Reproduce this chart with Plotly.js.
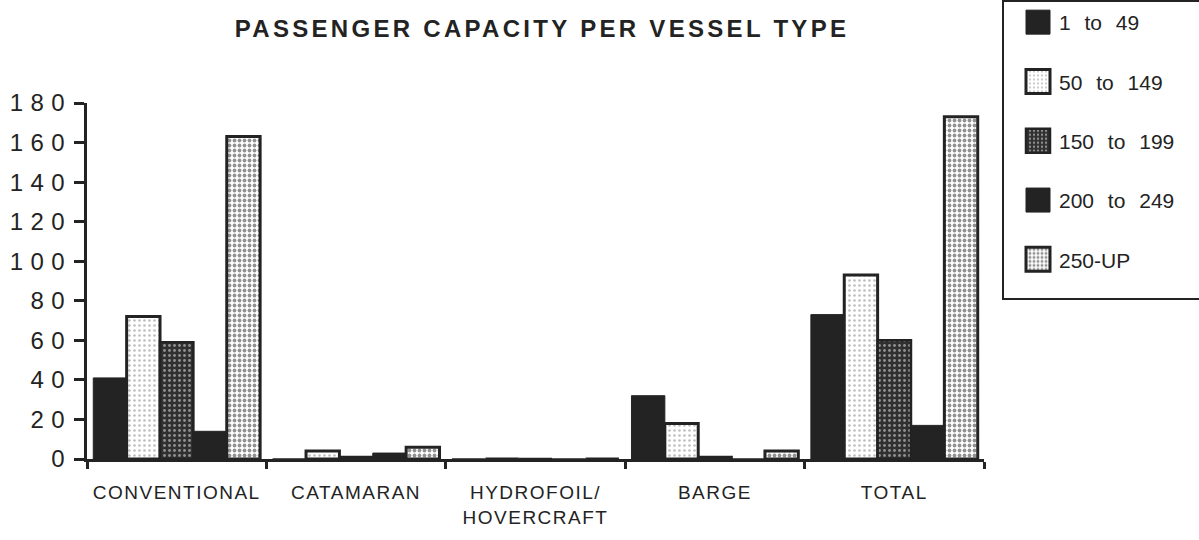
<!DOCTYPE html>
<html>
<head>
<meta charset="utf-8">
<script src="https://cdn.plot.ly/plotly-3.0.1.min.js"></script>
<style>
  html, body { margin: 0; padding: 0; background: #fff; }
  #chart { width: 1199px; height: 540px; }
  .ytick text { letter-spacing: 7.5px; }
  .xtick text { letter-spacing: 1.5px; }
  .gtitle { letter-spacing: 3.3px; }
  .legendtext { word-spacing: 8px; }
</style>
</head>
<body>
<div id="chart"></div>
<script>
const categories = ['CONVENTIONAL', 'CATAMARAN', 'HYDROFOIL/<br>HOVERCRAFT', 'BARGE', 'TOTAL'];
const seriesNames = ['1 to 49', '50 to 149', '150 to 199', '200 to 249', '250-UP'];
const cap1to49    = [41, 0, 0, 32, 73];
const cap50to149  = [72, 4, 0, 18, 93];
const cap150to199 = [59, 1, 0, 1, 60];
const cap200to249 = [14, 3, 0, 0, 17];
const cap250up    = [163, 6, 0, 4, 173];
const yTicks = [0, 20, 40, 60, 80, 100, 120, 140, 160, 180];

const ink = '#232323';
const styles = [
  {color: ink, line: {color: ink, width: 1}},
  {color: '#ffffff', line: {color: ink, width: 3},
   pattern: {shape: '.', fgcolor: '#808080', bgcolor: '#ffffff', size: 5, solidity: 0.22, fillmode: 'overlay'}},
  {color: '#333333', line: {color: ink, width: 2.5},
   pattern: {shape: '.', fgcolor: '#f4f4f4', bgcolor: '#303030', size: 5, solidity: 0.25, fillmode: 'overlay'}},
  {color: ink, line: {color: ink, width: 1}},
  {color: '#ffffff', line: {color: ink, width: 3},
   pattern: {shape: '.', fgcolor: '#262626', bgcolor: '#ffffff', size: 5, solidity: 0.45, fillmode: 'overlay'}}
];
const values = [cap1to49, cap50to149, cap150to199, cap200to249, cap250up];

const traces = values.map((v, i) => ({
  type: 'bar',
  x: categories,
  y: v,
  name: seriesNames[i],
  legendgroup: 'g' + i,
  marker: styles[i],
  hoverinfo: 'x+y+name'
}));

const layout = {
  width: 1199, height: 540,
  margin: {l: 87, r: 215, t: 103, b: 81},
  paper_bgcolor: '#fff', plot_bgcolor: '#fff',
  font: {family: 'Liberation Sans, Arial, sans-serif', color: ink},
  title: {
    text: 'PASSENGER CAPACITY PER VESSEL TYPE',
    font: {family: 'Liberation Sans, Arial, sans-serif', size: 24, weight: 'bold', color: ink},
    xref: 'container', yref: 'container', x: 542 / 1199, xanchor: 'center', y: 1 - 29 / 540, yanchor: 'middle'
  },
  barmode: 'group', bargap: 0.07, bargroupgap: 0,
  showlegend: true,
  legend: {
    xref: 'container', yref: 'container', x: 1002 / 1199, xanchor: 'left', y: 1.01, yanchor: 'top',
    bordercolor: ink, borderwidth: 2, bgcolor: '#fff', maxheight: 600,
    font: {size: 21, color: ink}, tracegroupgap: 29, itemclick: false
  },
  xaxis: {
    type: 'category', tickson: 'boundaries', ticks: 'outside', ticklen: 7, tickwidth: 3, tickcolor: ink,
    showline: true, linewidth: 3, linecolor: ink, showgrid: false, zeroline: false,
    tickfont: {size: 19, color: ink}, ticklabelstandoff: 14
  },
  xaxis2: {
    overlaying: 'x', anchor: 'y', type: 'linear', range: [-0.5, 4.5],
    tickvals: [-0.5, 0.5, 1.5, 2.5, 3.5, 4.5], ticks: 'inside', ticklen: 12, tickwidth: 3, tickcolor: ink,
    showticklabels: false, showline: false, showgrid: false, zeroline: false
  },
  yaxis: {
    range: [0, 180], tickvals: yTicks, ticks: 'outside', ticklen: 10, tickwidth: 3, tickcolor: ink,
    showline: true, linewidth: 3, linecolor: ink, showgrid: false, zeroline: false,
    tickfont: {size: 24, color: ink}, ticklabelstandoff: -3
  },
  yaxis2: {
    overlaying: 'y', anchor: 'x', side: 'left', range: [0, 180], tickvals: yTicks,
    ticks: 'inside', ticklen: 8, tickwidth: 3, tickcolor: ink,
    showticklabels: false, showline: false, showgrid: false, zeroline: false
  }
};

Plotly.newPlot('chart', traces, layout, {displayModeBar: false, staticPlot: true}).then(() => {
  document.querySelectorAll('.legendpoints path').forEach(p => {
    p.setAttribute('d', 'M26,12H2V-12H26Z');
  });
  document.querySelectorAll('.legendtext').forEach(t => {
    const x = parseFloat(t.getAttribute('x') || '40');
    t.setAttribute('x', x + 15);
  });
  // widen the legend box past the right edge and add bottom padding
  const extend = r => {
    r.setAttribute('width', 260);
    const h = parseFloat(r.getAttribute('height') || '0');
    r.setAttribute('height', h + 18);
  };
  document.querySelectorAll('.legend rect.bg').forEach(extend);
  document.querySelectorAll('clipPath[id^="legend"] rect').forEach(extend);
});
</script>
</body>
</html>
